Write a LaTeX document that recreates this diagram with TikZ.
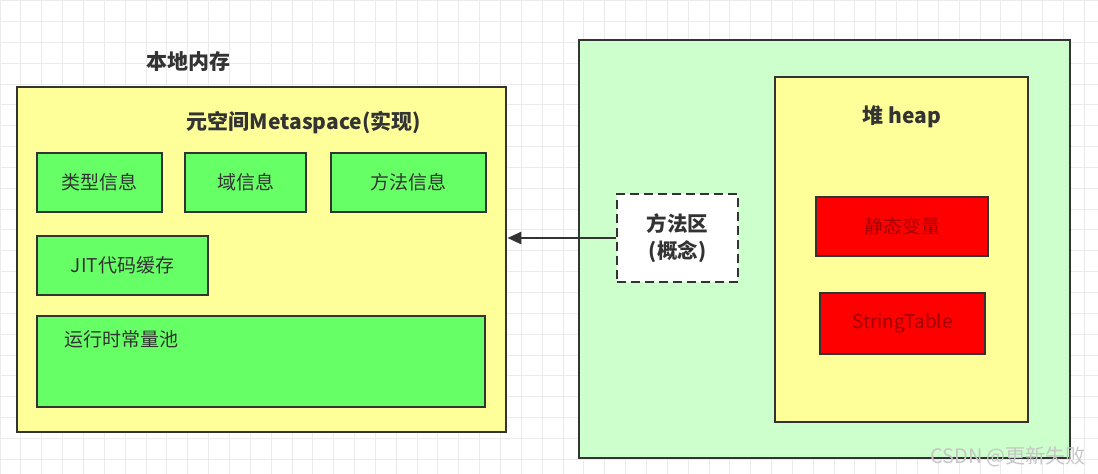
\documentclass[tikz,border=0pt]{standalone}
\usepackage{fontspec}
\setmainfont{Noto Sans CJK SC}
\usetikzlibrary{arrows.meta}
\definecolor{gridc}{HTML}{EBEBEB}
\definecolor{edgec}{HTML}{333333}
\definecolor{yellowf}{HTML}{FFFF99}
\definecolor{greenf}{HTML}{66FF66}
\definecolor{lgreenf}{HTML}{CCFFCC}
\definecolor{redf}{HTML}{FF0000}
\definecolor{redt}{HTML}{A00000}
\definecolor{textc}{HTML}{333333}
\tikzset{
  box/.style={draw=edgec, line width=2.8pt, rectangle, inner sep=0pt, anchor=center},
  ybox/.style={box, fill=yellowf},
  gbox/.style={box, fill=greenf, text=textc, font=\fontsize{19}{22}\selectfont},
  rbox/.style={box, fill=redf, text=redt, font=\fontsize{19}{22}\selectfont},
  lgbox/.style={box, fill=lgreenf},
  dbox/.style={box, fill=white, dashed, dash pattern=on 9pt off 5pt, text=textc, font=\bfseries\fontsize{20.5}{27}\selectfont, align=center},
  ttl/.style={text=textc, font=\bfseries\fontsize{21}{24}\selectfont, inner sep=0pt},
  plain/.style={text=textc, font=\fontsize{19}{22}\selectfont, inner sep=0pt},
}
\begin{document}
\begin{tikzpicture}[x=1pt,y=-1pt]
\useasboundingbox (0,0) rectangle (1098,474);
\fill[white] (0,0) rectangle (1098,474);
\foreach \i in {0,...,53} {\draw[gridc, line width=0.8pt] (\i*20.85,0) -- (\i*20.85,474);}
\foreach \j in {0,...,22} {\draw[gridc, line width=0.8pt] (0,\j*20.85+0.5) -- (1098,\j*20.85+0.5);}

% left: native memory
\node[ttl] (native) at (188,62) {本地内存};
\node[ybox, minimum width=489pt, minimum height=345pt] (meta) at (261.5,259.5) {};
\node[ttl] (metattl) at (304,123) {元空间Metaspace(实现)};
\node[gbox, minimum width=125pt, minimum height=59pt] (type) at (99.5,182.5) {类型信息};
\node[gbox, minimum width=121pt, minimum height=59pt] (field) at (245.5,182.5) {域信息};
\node[gbox, minimum width=155pt, minimum height=59pt] (method) at (408.5,182.5) {方法信息};
\node[gbox, minimum width=171pt, minimum height=59pt] (jit) at (122.5,265.5) {JIT代码缓存};
\node[gbox, minimum width=448pt, minimum height=91pt] (pool) at (261,361.5) {};
\node[plain, anchor=west] (pooltxt) at (64,339) {运行时常量池};

% right: JVM
\node[lgbox, minimum width=491pt, minimum height=418pt] (jvm) at (824.5,249) {};
\node[dbox, minimum width=121pt, minimum height=88pt] (area) at (677.5,238) {方法区\\(概念)};
\node[ybox, minimum width=253pt, minimum height=345pt] (heap) at (901.5,249.5) {};
\node[ttl] (heapttl) at (902,117) {堆 heap};
\node[rbox, minimum width=172pt, minimum height=59pt] (static) at (902,226.5) {静态变量};
\node[rbox, minimum width=165pt, minimum height=61pt] (strtab) at (902.5,323.5) {StringTable};

\draw[edgec, line width=2.8pt, -{Triangle[length=14pt,width=12pt]}] (area.west) -- (area.west -| meta.east);

\node[text=gray!45, font=\fontsize{20}{22}\selectfont, inner sep=0pt] (wm) at (1008,457) {CSDN @更新失败};
\end{tikzpicture}
\end{document}
